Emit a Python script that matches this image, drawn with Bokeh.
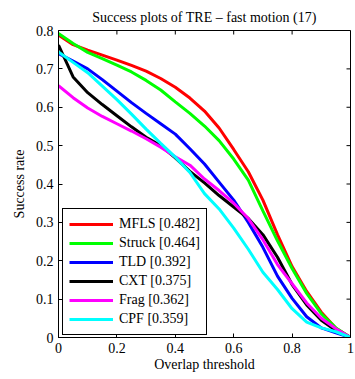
import math
from bokeh.plotting import figure
from bokeh.models import Range1d, FixedTicker, Legend, LegendItem
from bokeh.embed import file_html
from bokeh.resources import INLINE

# ---- data ----
thresholds = [0.0, 0.05, 0.1, 0.15, 0.2, 0.25, 0.3, 0.35, 0.4, 0.45, 0.5,
              0.55, 0.6, 0.65, 0.7, 0.75, 0.8, 0.85, 0.9, 0.95, 1.0]
mfls = [0.788, 0.763, 0.749, 0.736, 0.723, 0.709, 0.694, 0.675, 0.652, 0.624, 0.590,
        0.546, 0.490, 0.432, 0.358, 0.268, 0.185, 0.120, 0.066, 0.024, 0.0]
struck = [0.792, 0.766, 0.743, 0.727, 0.710, 0.692, 0.670, 0.645, 0.614, 0.584, 0.551,
          0.513, 0.465, 0.410, 0.330, 0.252, 0.180, 0.115, 0.062, 0.025, 0.0]
tld = [0.740, 0.720, 0.700, 0.672, 0.642, 0.612, 0.584, 0.557, 0.530, 0.492, 0.452,
       0.405, 0.358, 0.300, 0.235, 0.160, 0.102, 0.054, 0.025, 0.012, 0.0]
cxt = [0.762, 0.679, 0.638, 0.607, 0.578, 0.549, 0.522, 0.500, 0.468, 0.433, 0.403,
       0.370, 0.340, 0.310, 0.268, 0.209, 0.138, 0.085, 0.045, 0.018, 0.0]
frag = [0.656, 0.625, 0.598, 0.576, 0.557, 0.538, 0.518, 0.496, 0.471, 0.449, 0.413,
        0.383, 0.350, 0.310, 0.255, 0.190, 0.140, 0.090, 0.050, 0.023, 0.0]
cpf = [0.744, 0.717, 0.690, 0.655, 0.620, 0.582, 0.543, 0.506, 0.470, 0.430, 0.375,
       0.335, 0.285, 0.230, 0.170, 0.125, 0.075, 0.040, 0.025, 0.015, 0.0]

series_names = ["MFLS [0.482]", "Struck [0.464]", "TLD [0.392]",
                "CXT [0.375]", "Frag [0.362]", "CPF [0.359]"]
series_values = [mfls, struck, tld, cxt, frag, cpf]
series_colors = ["#ff0000", "#00ff00", "#0000ff", "#000000", "#ff00ff", "#00ffff"]

x_ticks = [0, 0.2, 0.4, 0.6, 0.8, 1]
x_tick_labels = ["0", "0.2", "0.4", "0.6", "0.8", "1"]
y_ticks = [0, 0.1, 0.2, 0.3, 0.4, 0.5, 0.6, 0.7, 0.8]
y_tick_labels = ["0", "0.1", "0.2", "0.3", "0.4", "0.5", "0.6", "0.7", "0.8"]

FONT = "Liberation Serif"

p = figure(width=355, height=379, output_backend="svg", toolbar_location=None,
           x_range=Range1d(0, 1), y_range=Range1d(0, 0.8),
           min_border_left=58, min_border_right=5, min_border_top=30, min_border_bottom=42,
           background_fill_color="white", border_fill_color="white")

p.title.text = "Success plots of TRE \u2013 fast motion (17)"
p.title.align = "center"
p.title.vertical_align = "middle"
p.title.text_font = FONT
p.title.text_font_size = "14px"
p.title.text_font_style = "normal"
p.title.text_color = "black"

p.xgrid.visible = False
p.ygrid.visible = False
p.outline_line_color = "black"
p.outline_line_width = 1
p.outline_line_alpha = 1


def style_axis(ax, ticks, labels):
    ax.ticker = FixedTicker(ticks=ticks)
    ax.major_tick_in = 4
    ax.major_tick_out = 0
    ax.minor_tick_in = 0
    ax.minor_tick_out = 0
    ax.axis_line_color = "black"
    ax.major_tick_line_color = "black"
    ax.major_label_overrides = dict(zip(ticks, labels))
    ax.major_label_text_font = FONT
    ax.major_label_text_font_size = "14px"
    ax.major_label_text_color = "black"
    ax.major_label_standoff = 5
    ax.axis_label_text_font = FONT
    ax.axis_label_text_font_size = "14px"
    ax.axis_label_text_font_style = "normal"
    ax.axis_label_text_color = "black"


style_axis(p.xaxis[0], x_ticks, x_tick_labels)
style_axis(p.yaxis[0], y_ticks, y_tick_labels)
p.xaxis[0].axis_label = "Overlap threshold"
p.xaxis[0].axis_label_standoff = 1
p.yaxis[0].axis_label = "Success rate"
p.yaxis[0].axis_label_standoff = 6

# inward ticks on the top and right edges of the box
p.ray(x=x_ticks, y=[p.y_range.end] * len(x_ticks), length=4, length_units="screen",
      angle=-math.pi / 2, line_color="black", line_width=1)
p.ray(x=[p.x_range.end] * len(y_ticks), y=y_ticks, length=4, length_units="screen",
      angle=math.pi, line_color="black", line_width=1)

items = []
for name, vals, col in zip(series_names, series_values, series_colors):
    r = p.line(thresholds, vals, line_color=col, line_width=3)
    items.append(LegendItem(label=name, renderers=[r]))

legend = Legend(items=items, location=(4, 2), margin=0,
                label_text_font=FONT, label_text_font_size="14px", label_text_color="black",
                border_line_color="black", border_line_width=1, border_line_alpha=1,
                background_fill_color="white", background_fill_alpha=1,
                padding=6, spacing=1, label_height=18, glyph_height=18, glyph_width=44,
                label_standoff=6)
p.add_layout(legend)

open("out.html", "w").write(file_html(p, INLINE))
